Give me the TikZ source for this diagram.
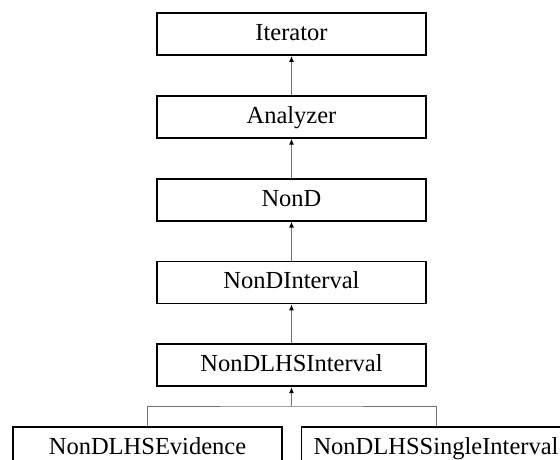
\documentclass[tikz,border=0pt]{standalone}
\usepackage{fontspec}
\setmainfont{Liberation Serif}
\usetikzlibrary{arrows.meta}

\tikzset{
  cls/.style={draw, line width=1.8pt, minimum width=269pt, minimum height=42pt,
    inner sep=0pt, text height=17pt, text depth=4pt,
    font=\fontsize{24.5}{29}\selectfont},
  inh/.style={draw=black!55, line width=1.1pt, -{Latex[length=6pt,width=5pt,color=black]}},
  tree/.style={draw=black!55, line width=1pt}
}

\begin{document}
\begin{tikzpicture}[x=1pt,y=1pt]
  \useasboundingbox (0,0) rectangle (560,-459);

  % the single chain of base classes
  \foreach \name/\txt/\y in {it/Iterator/34, an/Analyzer/116.8, nd/NonD/199.6,
                             ni/NonDInterval/282.4, nl/NonDLHSInterval/365.2} {
    \node[cls] (\name) at (291.5,-\y) {\txt};
  }
  \foreach \lo/\hi in {an/it, nd/an, ni/nd, nl/ni} {
    \draw[inh] (\lo) -- (\hi);
  }

  % two leaves below
  \node[cls] (ev) at (147.5,-448) {NonDLHSEvidence};
  \node[cls] (si) at (436,-448) {NonDLHSSingleInterval};

  \coordinate (fork) at (291.5,-406);
  \draw[tree] (ev.north) |- (fork) -| (si.north);
  \draw[inh] (fork) -- (nl);
\end{tikzpicture}
\end{document}
